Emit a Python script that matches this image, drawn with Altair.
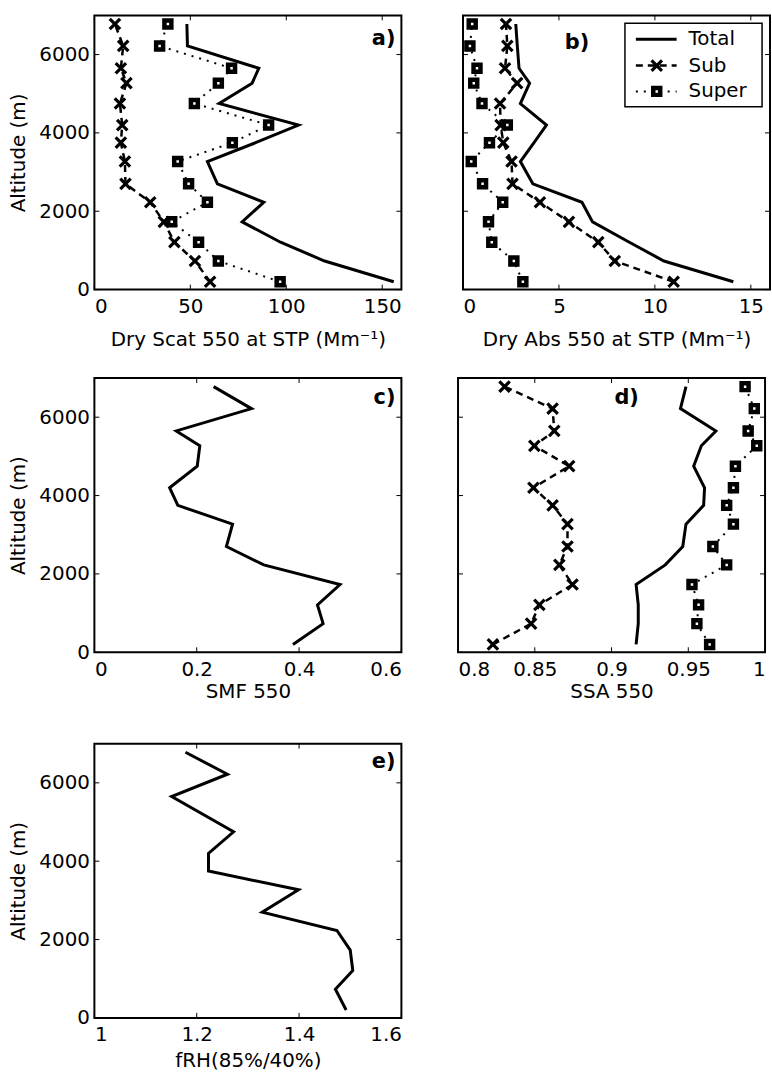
import altair as alt
import pandas as pd

FONT = "DejaVu Sans"
W, H = 309, 276

# Flight levels (m), bottom to top
altitude = [200, 730, 1210, 1730, 2230, 2700, 3270, 3750, 4200, 4750, 5270, 5650, 6220, 6780]

# a) dry scattering at 550 nm, STP (Mm-1)
scat_total = [156.0, 120.0, 97.0, 77.0, 88.3, 64.1, 58.9, 84.0, 106.4, 65.0, 82.2, 85.7, 48.5, 48.2]
scat_sub = [60.3, 52.4, 41.7, 36.2, 29.1, 16.2, 15.9, 13.8, 14.5, 13.3, 16.7, 13.8, 15.0, 10.7]
scat_super = [96.8, 64.6, 54.3, 40.3, 58.9, 49.1, 43.4, 71.9, 90.8, 52.1, 64.6, 71.5, 34.0, 38.3]

# b) dry absorption at 550 nm, STP (Mm-1)
abs_total = [14.09, 10.47, 8.67, 6.75, 6.2, 3.64, 2.99, 3.7, 4.35, 2.99, 3.47, 2.92, 2.83, 2.75]
abs_sub = [10.98, 7.91, 7.05, 5.52, 4.01, 2.58, 2.53, 2.1, 1.96, 1.93, 2.82, 2.19, 2.31, 2.24]
abs_super = [3.12, 2.65, 1.5, 1.33, 2.07, 1.02, 0.43, 1.38, 2.31, 0.99, 0.56, 0.73, 0.36, 0.48]

# c) sub-micron scattering fraction
smf = [0.388, 0.447, 0.436, 0.480, 0.331, 0.258, 0.270, 0.163, 0.147, 0.201, 0.206, 0.160, 0.307, 0.233]

# d) single scattering albedo
ssa_total = [0.916, 0.9174, 0.9174, 0.916, 0.935, 0.9464, 0.9485, 0.960, 0.9606, 0.9535, 0.9585, 0.968, 0.9449, 0.9485]
ssa_sub = [0.8227, 0.8476, 0.853, 0.8746, 0.866, 0.8713, 0.8713, 0.8616, 0.8491, 0.8724, 0.8497, 0.8627, 0.8616, 0.8303]
ssa_super = [0.9639, 0.9556, 0.9567, 0.9524, 0.975, 0.966, 0.9794, 0.975, 0.9794, 0.9807, 0.9946, 0.989, 0.993, 0.987]

# e) humidification factor f(RH) 85%/40% (no value at 5270 m)
frh = [1.492, 1.471, 1.505, 1.500, 1.474, 1.328, 1.399, 1.223, 1.223, 1.272, None, 1.151, 1.260, 1.178]

alt_ticks = [0, 2000, 4000, 6000]
X_PATH = "M-1,-1L1,1M-1,1L1,-1"

LINE_STYLE = {
    "Total": dict(strokeWidth=3),
    "Sub": dict(strokeWidth=2.5, strokeDash=[7, 5]),
    "Super": dict(strokeWidth=2, strokeDash=[2, 6]),
}


def long_table(series):
    rows = []
    for name, vals in series.items():
        for a, v in zip(altitude, vals):
            if v is not None:
                rows.append({"altitude": a, "value": v, "series": name})
    return pd.DataFrame(rows)


def marker(chart, name, enc):
    if name == "Sub":
        return chart.mark_point(shape=X_PATH, filled=False, size=110, strokeWidth=3.2,
                                color="black", opacity=1).encode(**enc)
    return chart.mark_point(shape="square", filled=False, size=49, strokeWidth=4.5,
                            color="black", fill="white", opacity=1).encode(**enc)


def legend_layers():
    one = pd.DataFrame({"k": [0]})
    base = alt.Chart(one)
    layers = [base.mark_rect(fill="white", stroke="black", strokeWidth=1.5).encode(
        x=alt.value(163), x2=alt.value(301), y=alt.value(8), y2=alt.value(92))]
    for name, yy in [("Total", 24), ("Sub", 50.5), ("Super", 76.5)]:
        layers.append(base.mark_rule(color="black", **LINE_STYLE[name]).encode(
            x=alt.value(174), x2=alt.value(215), y=alt.value(yy)))
        if name != "Total":
            layers.append(marker(base, name, dict(x=alt.value(195), y=alt.value(yy))))
        layers.append(alt.Chart(pd.DataFrame({"lab": [name]})).mark_text(
            align="left", baseline="middle", font=FONT, fontSize=20, color="black").encode(
            text="lab:N", x=alt.value(227), y=alt.value(yy)))
    return layers


def panel(series, domain, xticks, xtitle, tag, tag_x, tag_y, show_y, title_y,
          with_legend=False):
    df = long_table(series)
    xscale = alt.Scale(domain=domain, nice=False, zero=False)
    yscale = alt.Scale(domain=[0, 7000], nice=False, zero=False)
    xaxis = alt.Axis(values=xticks, title=xtitle, labelExpr="format(datum.value, '~g')",
                     labelPadding=7, titleBaseline="alphabetic", titleY=title_y)
    if show_y:
        yaxis = alt.Axis(values=alt_ticks, format="d", title="Altitude (m)",
                         labelPadding=5, titlePadding=10)
    else:
        yaxis = None
    xs = alt.X("value:Q", scale=xscale, axis=xaxis)
    ys = alt.Y("altitude:Q", scale=yscale, axis=yaxis)
    enc = dict(x=xs, y=ys, order=alt.Order("altitude:Q"))
    base = alt.Chart(df)
    layers = []
    for name in series:
        sub = base.transform_filter(alt.datum.series == name)
        layers.append(sub.mark_line(color="black", **LINE_STYLE[name]).encode(**enc))
    for name in series:
        if name in ("Sub", "Super"):
            sub = base.transform_filter(alt.datum.series == name)
            layers.append(marker(sub, name, enc))

    # inward tick marks on all four sides
    xt = alt.Chart(pd.DataFrame({"value": xticks}))
    yt = alt.Chart(pd.DataFrame({"altitude": alt_ticks}))
    layers += [
        xt.mark_rule(color="black", strokeWidth=1).encode(x=xs, y=alt.value(H), y2=alt.value(H - 5)),
        xt.mark_rule(color="black", strokeWidth=1).encode(x=xs, y=alt.value(0), y2=alt.value(5)),
        yt.mark_rule(color="black", strokeWidth=1).encode(y=ys, x=alt.value(0), x2=alt.value(5)),
        yt.mark_rule(color="black", strokeWidth=1).encode(y=ys, x=alt.value(W), x2=alt.value(W - 5)),
    ]
    layers.append(alt.Chart(pd.DataFrame({"tag": [tag]})).mark_text(
        align="right", baseline="alphabetic", font=FONT, fontSize=21, fontWeight="bold",
        color="black").encode(text="tag:N", x=alt.value(tag_x), y=alt.value(tag_y)))
    if with_legend:
        layers += legend_layers()
    return alt.layer(*layers).properties(width=W, height=H)


pa = panel({"Total": scat_total, "Sub": scat_sub, "Super": scat_super}, [0, 160], [0, 50, 100, 150],
           "Dry Scat 550 at STP (Mm⁻¹)", "a)", 303, 30, True, 56)
pb = panel({"Total": abs_total, "Sub": abs_sub, "Super": abs_super}, [0, 16], [0, 5, 10, 15],
           "Dry Abs 550 at STP (Mm⁻¹)", "b)", 127, 34, False, 56, with_legend=True)
pc = panel({"Total": smf}, [0, 0.6], [0, 0.2, 0.4, 0.6], "SMF 550", "c)", 303, 26, True, 46)
pd_ = panel({"Total": ssa_total, "Sub": ssa_sub, "Super": ssa_super}, [0.8, 1.0],
            [0.8, 0.85, 0.9, 0.95, 1.0], "SSA 550", "d)", 182, 26, False, 46)
pe = panel({"Total": frh}, [1.0, 1.6], [1.0, 1.2, 1.4, 1.6], "fRH(85%/40%)", "e)", 303, 24, True, 49)

top_rows = alt.vconcat(
    alt.hconcat(pa, pb, spacing=53),
    alt.hconcat(pc, pd_, spacing=53),
    spacing=23,
)

chart = alt.vconcat(top_rows, pe, spacing=39).properties(
    padding={"left": 8, "top": 7, "right": 0, "bottom": 0},
    background="white",
).configure_view(
    stroke="black", strokeWidth=2
).configure_axis(
    domain=False, ticks=False, grid=False,
    labelFont=FONT, labelFontSize=20, labelColor="black",
    titleFont=FONT, titleFontSize=20, titleFontWeight="normal", titleColor="black",
)

chart.save("out.html", embed_options={"renderer": "svg", "actions": False})
